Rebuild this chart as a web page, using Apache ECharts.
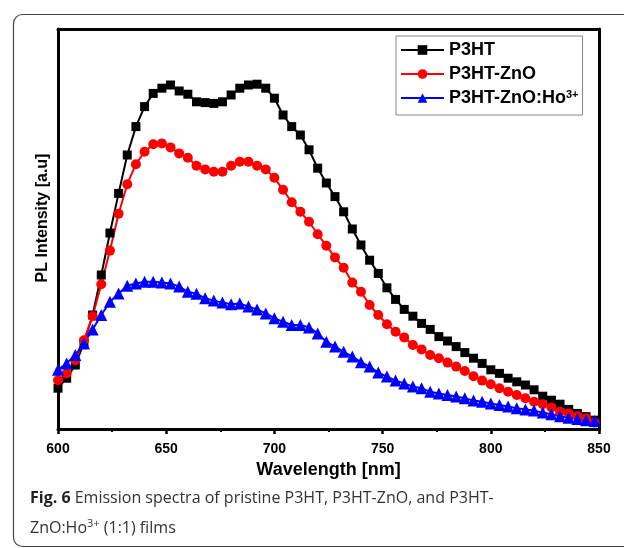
<!DOCTYPE html>
<html><head><meta charset="utf-8">
<script src="https://cdn.jsdelivr.net/npm/echarts@6/dist/echarts.min.js"></script>
<style>html,body{margin:0;padding:0;background:#fff}#c{width:624px;height:548px}</style>
</head><body><div id="c"></div>
<script>
const wavelength = [600,604,608,612,616,620,624,628,632,636,640,644,648,652,656,660,664,668,672,676,680,684,688,692,696,700,704,708,712,716,720,724,728,732,736,740,744,748,752,756,760,764,768,772,776,780,784,788,792,796,800,804,808,812,816,820,824,828,832,836,840,844,848];
const p3ht = [10.2,12.7,16,21.5,28.5,38.5,49,58.9,68.5,75.6,80.6,83.9,85.2,86,84.5,83.7,81.8,81.6,81.4,81.8,83.5,85.2,86,86.2,85.2,82.7,78.5,75.6,73.5,69.8,65.2,61.5,58.1,54.3,50,46,42.2,38.9,35.3,32.4,29.9,28.2,26.4,24.9,23.1,22,20.6,19.1,17.7,16.4,14.8,13.9,12.7,11.8,11,9.8,8.2,7.2,6.2,4.9,3.9,3.1,2.2];
const p3htZnO = [12.2,13.9,17.2,22.2,28.2,36.2,44.6,53.8,61.2,66.2,69.3,71.2,71.4,70.4,68.9,67.8,65.8,64.9,64.3,64.3,65.8,66.8,66.8,65.8,64.9,62.8,59.8,56.7,54.3,51.8,48.7,45.8,42.9,40.3,36.6,34.3,31,28.5,26.2,24.3,22.9,21,19.9,18.5,17.7,16.6,15.6,14.5,13.2,12.1,11.2,10.2,9.3,8.5,7.7,6.8,6.2,5.4,4.3,3.9,3.2,2.7,1.6];
const p3htZnOHo = [14.8,16.4,18.5,21.4,24.9,28.5,31.8,33.9,35.8,36.4,36.8,36.8,36.6,36.4,35.6,34.3,33.8,32.7,32.1,31.6,31.2,31.4,30.6,29.9,28.9,27.7,26.8,26,26,25.4,23.9,21.8,20.6,19.3,18.1,16.7,15.6,14.1,13.1,12.1,11.4,10.6,10.2,9.3,8.9,8.5,8.1,7.7,7.1,6.8,6.4,6,5.6,5.2,4.9,4.6,4.1,3.7,3.2,2.8,2.5,2.2,2];
const seriesNames = ['P3HT','P3HT-ZnO','P3HT-ZnO:Ho3+'];
const xTicks = {min:600,max:850,interval:50};

const pairs = arr => wavelength.map((w,i)=>[w,arr[i]]);
const chart = echarts.init(document.getElementById('c'), null, {renderer:'canvas'});
const font = 'Liberation Sans, Arial, sans-serif';
const mk = (name, data, color, symbol, size) => ({
  name, type:'line', data:pairs(data), symbol, symbolSize:size, xAxisIndex:0, yAxisIndex:0,
  lineStyle:{color, width:2}, itemStyle:{color}, animation:false
});
chart.setOption({
  backgroundColor:'#fff',
  animation:false,
  grid:{left:58,right:25,top:29,bottom:119},
  xAxis:[{
    type:'value', min:xTicks.min, max:xTicks.max, interval:xTicks.interval,
    name:'Wavelength [nm]', nameLocation:'middle', nameGap:29,
    nameTextStyle:{fontFamily:font,fontWeight:'bold',fontSize:18,color:'#000'},
    axisLine:{onZero:false,lineStyle:{color:'#000',width:3}},
    axisTick:{inside:false,length:5,lineStyle:{color:'#000',width:2.5}},
    minorTick:{show:true,splitNumber:2,length:3,lineStyle:{color:'#000',width:2}},
    axisLabel:{fontFamily:font,fontWeight:'bold',fontSize:14,color:'#000',margin:13},
    splitLine:{show:false}
  },{
    type:'value', position:'top', min:xTicks.min, max:xTicks.max,
    axisLine:{show:true,onZero:false,lineStyle:{color:'#000',width:3}},
    axisTick:{show:false}, axisLabel:{show:false}, splitLine:{show:false}
  }],
  yAxis:[{
    type:'value', min:0, max:100,
    axisLine:{show:true,onZero:false,lineStyle:{color:'#000',width:3}},
    axisTick:{show:false}, axisLabel:{show:false}, splitLine:{show:false}
  },{
    type:'value', position:'right', min:0, max:100,
    axisLine:{show:true,onZero:false,lineStyle:{color:'#000',width:3}},
    axisTick:{show:false}, axisLabel:{show:false}, splitLine:{show:false}
  }],
  legend:{
    left:396, top:36, orient:'vertical', itemWidth:43, itemHeight:12, itemGap:6,
    padding:[5,4,7,4], borderColor:'#888', borderWidth:1,
    data:seriesNames,
    formatter: n => n==='P3HT-ZnO:Ho3+' ? '{t|P3HT-ZnO:Ho}{s|3+}' : '{t|'+n+'}',
    textStyle:{fontFamily:font,fontWeight:'bold',fontSize:18,color:'#000',lineHeight:18,
      rich:{t:{fontFamily:font,fontWeight:'bold',fontSize:18,color:'#000',lineHeight:18},
            s:{fontFamily:font,fontWeight:'bold',fontSize:11,color:'#000',lineHeight:18,verticalAlign:'top',padding:[0,0,8,0]}}}
  },
  series:[
    mk(seriesNames[0], p3ht, '#000000', 'rect', 9),
    mk(seriesNames[1], p3htZnO, '#ff0000', 'circle', 10),
    mk(seriesNames[2], p3htZnOHo, '#0000ff', 'triangle', 12)
  ],
  graphic:[
    {type:'rect', shape:{x:13.5,y:14.5,width:660,height:532,r:9}, style:{fill:null,stroke:'#444',lineWidth:1.2}, silent:true, z:-1},
    {type:'text', x:43, y:218, rotation:Math.PI/2, style:{text:'PL Intensity [a.u]', fontFamily:font, fontWeight:'bold', fontSize:16, fill:'#000', align:'center', verticalAlign:'middle'}},
    {type:'text', left:30, top:490, style:{text:'{b|Fig. 6} Emission spectra of pristine P3HT, P3HT-ZnO, and P3HT-',
      rich:{b:{fontFamily:'Open Sans',fontWeight:'bold',fontSize:16,fill:'#222'}},
      fontFamily:'Open Sans',fontSize:16,fill:'#333'}},
    {type:'text', left:30, top:518, style:{text:'ZnO:Ho{s|3+} (1:1) films',
      rich:{s:{fontFamily:'Open Sans',fontSize:11,fill:'#333',verticalAlign:'bottom',padding:[0,0,9,0]}},
      fontFamily:'Open Sans',fontSize:16,fill:'#333'}}
  ]
});
</script></body></html>
